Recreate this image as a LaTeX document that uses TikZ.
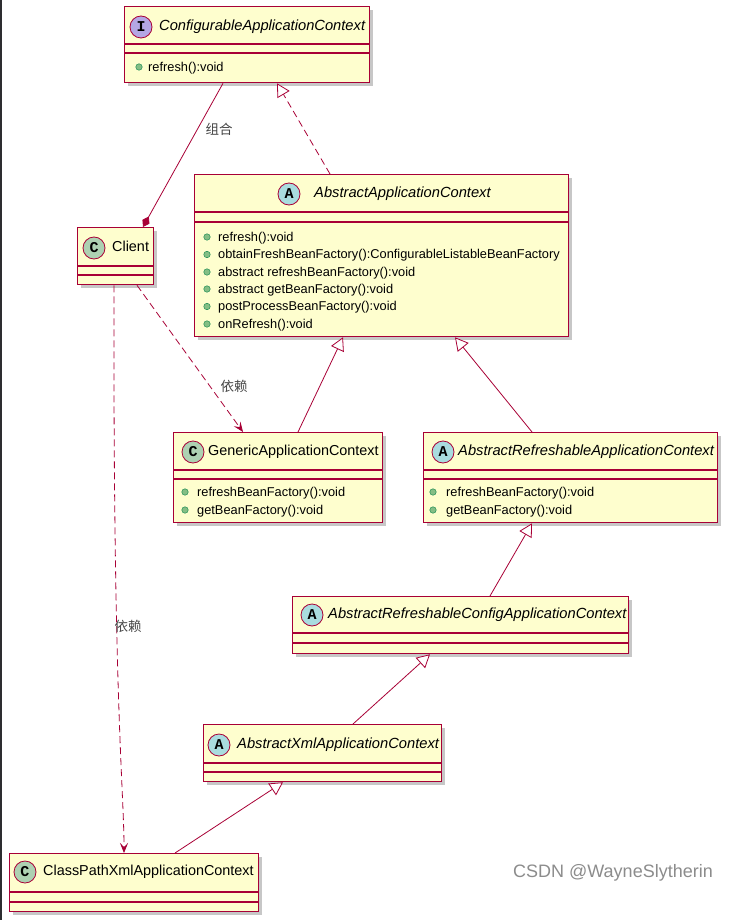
\documentclass[tikz,border=0pt]{standalone}
\usepackage{fontspec}
\setmainfont{Liberation Sans}
\newfontfamily\cjk{Noto Sans CJK SC}
\newfontfamily\spotfont{Liberation Mono}
\usetikzlibrary{arrows.meta,shadows}
\definecolor{umlred}{RGB}{168,0,54}
\definecolor{umlfill}{RGB}{254,254,206}
\definecolor{spotI}{RGB}{180,167,229}
\definecolor{spotA}{RGB}{169,220,223}
\definecolor{spotC}{RGB}{173,209,178}
\definecolor{methgreen}{RGB}{132,190,132}
\definecolor{methdark}{RGB}{3,128,72}
\definecolor{lblgray}{RGB}{70,70,70}
\definecolor{darkedge}{RGB}{45,45,48}
\tikzset{
  clsbox/.style={draw=umlred, fill=umlfill, line width=1.3pt, anchor=north west, inner sep=0pt,
    drop shadow={shadow xshift=3pt, shadow yshift=-3pt, fill=black, opacity=0.22}},
  sep/.style={draw=umlred, line width=1.3pt},
  spot/.style={circle, draw=umlred, line width=0.8pt, minimum size=22pt, inner sep=0pt,
    font=\spotfont\bfseries\fontsize{15}{15}\selectfont},
  clsname/.style={anchor=west, inner sep=0pt, text height=10.5pt, text depth=3.5pt,
    font=\fontsize{14.4}{16}\selectfont},
  absname/.style={clsname, font=\fontsize{14.7}{16}\selectfont\itshape},
  meth/.style={anchor=west, inner sep=0pt, text height=9.5pt, text depth=3pt,
    font=\fontsize{12.8}{14}\selectfont},
  bullet/.style={circle, fill=methgreen, draw=methdark, line width=0.4pt, minimum size=6.5pt, inner sep=0pt},
  inh/.style={draw=umlred, line width=0.8pt, -{Triangle[length=13pt, width=14pt, fill=white]}},
  real/.style={inh, dash pattern=on 7pt off 4pt},
  dep/.style={draw=umlred, line width=0.8pt, dash pattern=on 7pt off 4pt, -{Stealth[length=10pt, width=8pt, inset=4pt]}},
  comp/.style={draw=umlred, line width=0.8pt, {Diamond[length=12pt, width=8pt]}-},
  lbl/.style={inner sep=0pt, text=lblgray, font=\cjk\fontsize{13.5}{14}\selectfont}
}
\begin{document}
\begin{tikzpicture}[x=1pt,y=-1pt]
\useasboundingbox (0,0) rectangle (728,920);
\fill[white] (0,0) rectangle (728,920);
\fill[darkedge] (0,0) rectangle (2,920);

\node[clsbox, minimum width=245pt, minimum height=76pt] (cac) at (124,6) {};
\draw[sep] ([yshift=-38pt]cac.north west) -- ([yshift=-38pt]cac.north east);
\draw[sep] ([yshift=-47pt]cac.north west) -- ([yshift=-47pt]cac.north east);
\node[spot, fill=spotI] (cacS) at (141,27) {I};
\node[absname] (cacT) at (159,27) {ConfigurableApplicationContext};
\node[bullet] (cacB1) at (139,67) {};
\node[meth] (cacM1) at (148,68) {refresh():void};

\node[clsbox, minimum width=374pt, minimum height=162pt] (aac) at (194,174) {};
\draw[sep] ([yshift=-38pt]aac.north west) -- ([yshift=-38pt]aac.north east);
\draw[sep] ([yshift=-48pt]aac.north west) -- ([yshift=-48pt]aac.north east);
\node[spot, fill=spotA] (aacS) at (289,194) {A};
\node[absname] (aacT) at (314,194) {AbstractApplicationContext};
\node[bullet] (aacB1) at (207,237) {};
\node[meth] (aacM1) at (218,238) {refresh():void};
\node[bullet] (aacB2) at (207,254.5) {};
\node[meth] (aacM2) at (218,255.5) {obtainFreshBeanFactory():ConfigurableListableBeanFactory};
\node[bullet] (aacB3) at (207,272) {};
\node[meth] (aacM3) at (218,273) {abstract refreshBeanFactory():void};
\node[bullet] (aacB4) at (207,289) {};
\node[meth] (aacM4) at (218,290) {abstract getBeanFactory():void};
\node[bullet] (aacB5) at (207,306.5) {};
\node[meth] (aacM5) at (218,307.5) {postProcessBeanFactory():void};
\node[bullet] (aacB6) at (207,324) {};
\node[meth] (aacM6) at (218,325) {onRefresh():void};

\node[clsbox, minimum width=76pt, minimum height=57pt] (client) at (77,227) {};
\draw[sep] ([yshift=-39pt]client.north west) -- ([yshift=-39pt]client.north east);
\draw[sep] ([yshift=-48pt]client.north west) -- ([yshift=-48pt]client.north east);
\node[spot, fill=spotC] (clientS) at (94,248) {C};
\node[clsname] (clientT) at (112,248) {Client};

\node[clsbox, minimum width=209pt, minimum height=90pt] (gac) at (173,432) {};
\draw[sep] ([yshift=-38pt]gac.north west) -- ([yshift=-38pt]gac.north east);
\draw[sep] ([yshift=-47pt]gac.north west) -- ([yshift=-47pt]gac.north east);
\node[spot, fill=spotC] (gacS) at (193,452) {C};
\node[clsname] (gacT) at (208,452) {GenericApplicationContext};
\node[bullet] (gacB1) at (185,492) {};
\node[meth] (gacM1) at (197,493) {refreshBeanFactory():void};
\node[bullet] (gacB2) at (185,510) {};
\node[meth] (gacM2) at (197,511) {getBeanFactory():void};

\node[clsbox, minimum width=294pt, minimum height=90pt] (arac) at (423,432) {};
\draw[sep] ([yshift=-38pt]arac.north west) -- ([yshift=-38pt]arac.north east);
\draw[sep] ([yshift=-47pt]arac.north west) -- ([yshift=-47pt]arac.north east);
\node[spot, fill=spotA] (aracS) at (443,452) {A};
\node[absname] (aracT) at (458,452) {AbstractRefreshableApplicationContext};
\node[bullet] (aracB1) at (433,492) {};
\node[meth] (aracM1) at (446,493) {refreshBeanFactory():void};
\node[bullet] (aracB2) at (433,510) {};
\node[meth] (aracM2) at (446,511) {getBeanFactory():void};

\node[clsbox, minimum width=336pt, minimum height=57pt] (arcac) at (292,596) {};
\draw[sep] ([yshift=-37pt]arcac.north west) -- ([yshift=-37pt]arcac.north east);
\draw[sep] ([yshift=-47pt]arcac.north west) -- ([yshift=-47pt]arcac.north east);
\node[spot, fill=spotA] (arcacS) at (312,615) {A};
\node[absname] (arcacT) at (328,615) {AbstractRefreshableConfigApplicationContext};

\node[clsbox, minimum width=238pt, minimum height=57pt] (axac) at (203,724) {};
\draw[sep] ([yshift=-39pt]axac.north west) -- ([yshift=-39pt]axac.north east);
\draw[sep] ([yshift=-48pt]axac.north west) -- ([yshift=-48pt]axac.north east);
\node[spot, fill=spotA] (axacS) at (219,745) {A};
\node[absname] (axacT) at (237,745) {AbstractXmlApplicationContext};

\node[clsbox, minimum width=249pt, minimum height=58pt] (cpxac) at (9,853) {};
\draw[sep] ([yshift=-39pt]cpxac.north west) -- ([yshift=-39pt]cpxac.north east);
\draw[sep] ([yshift=-49pt]cpxac.north west) -- ([yshift=-49pt]cpxac.north east);
\node[spot, fill=spotC] (cpxacS) at (25,872) {C};
\node[clsname] (cpxacT) at (43,872) {ClassPathXmlApplicationContext};

\draw[comp] ([xshift=66pt]client.north west) -- ([xshift=99pt]cac.south west);
\node[lbl] (zuhe) at (219,129) {组合};
\draw[real] ([xshift=136pt]aac.north west) -- ([xshift=153pt]cac.south west);
\draw[inh] ([xshift=125pt]gac.north west) -- ([xshift=149pt]aac.south west);
\draw[inh] ([xshift=109pt]arac.north west) -- ([xshift=261pt]aac.south west);
\draw[inh] ([xshift=198pt]arcac.north west) -- ([xshift=109pt]arac.south west);
\draw[inh] ([xshift=150pt]axac.north west) -- ([xshift=138pt]arcac.south west);
\draw[inh] ([xshift=166pt]cpxac.north west) -- ([xshift=80pt]axac.south west);
\draw[dep] ([xshift=60pt]client.south west) -- ([xshift=70pt]gac.north west);
\node[lbl] (yilai1) at (234,386) {依赖};
\draw[dep] ([xshift=37pt]client.south west) .. controls (113,700) and (124,790) .. ([xshift=115pt]cpxac.north west);
\node[lbl] (yilai2) at (128,626) {依赖};

\node[anchor=east, inner sep=0pt, text=black!45, font=\fontsize{18}{18}\selectfont] (mark) at (713,873) {CSDN @WayneSlytherin};
\end{tikzpicture}
\end{document}
